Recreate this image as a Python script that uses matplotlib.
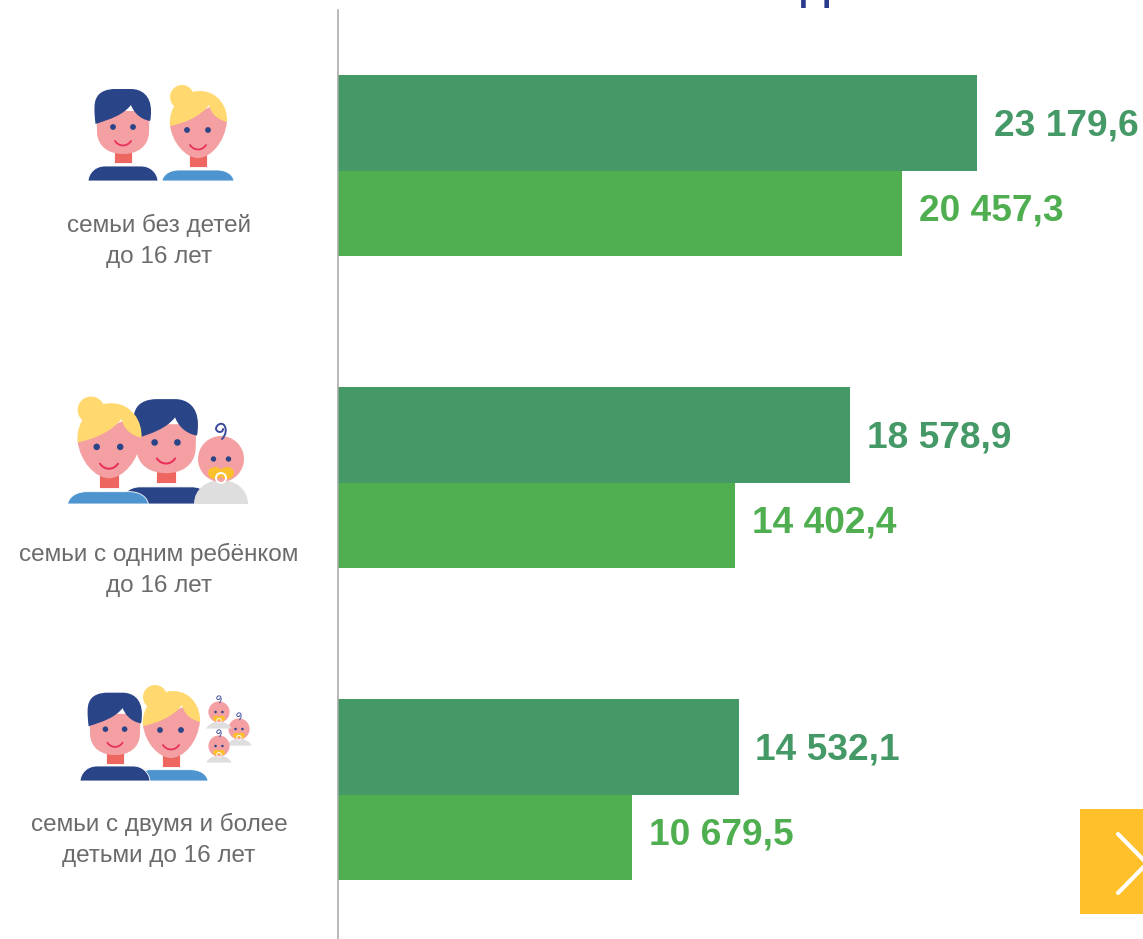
#!/usr/bin/env python3

import matplotlib
matplotlib.use("Agg")
import matplotlib.pyplot as plt
from matplotlib.patches import Circle, Ellipse, PathPatch, Rectangle
from matplotlib.path import Path

categories = ["семьи без детей\nдо 16 лет",
              "семьи с одним ребёнком\nдо 16 лет",
              "семьи с двумя и более\nдетьми до 16 лет"]
dark_values = [23179.6, 18578.9, 14532.1]
light_values = [20457.3, 14402.4, 10679.5]

DARK = "#459966"
LIGHT = "#4FAF50"
NAVY = "#2A4488"
FACE = "#F4A0A2"
NECK = "#EE6660"
BLOND = "#FFD970"
BLUE = "#4E95D0"
GREY = "#DEDEDE"
SMILE = "#E8305A"
W, H = 1143, 939

plt.rcParams["font.family"] = ["Liberation Sans", "DejaVu Sans"]


def fmt(v):
    return f"{v:,.1f}".replace(",", " ").replace(".", ",")


def shape(ax, ox, oy, s, d, color, z, ec="none"):
    # d is a list of (code, points) in icon coordinates
    verts, codes = [], []
    for code, pts in d:
        for x, y in pts:
            verts.append((ox + s * x, oy + s * y))
            codes.append(code)
    ax.add_patch(PathPatch(Path(verts, codes), facecolor=color, edgecolor=ec, lw=0.6, zorder=z))


def stroke(ax, ox, oy, s, pts, color, z, lw):
    verts = [(ox + s * x, oy + s * y) for x, y in pts]
    codes = [Path.MOVETO] + [Path.CURVE4] * (len(pts) - 1)
    ax.add_patch(PathPatch(Path(verts, codes), fill=False, edgecolor=color, lw=lw, capstyle="round", zorder=z))


M, L, C, Z = Path.MOVETO, Path.LINETO, Path.CURVE4, Path.CLOSEPOLY


def shoulders(ax, ox, oy, s, w, top, color, z):
    shape(ax, ox, oy, s, [(M, [(-w, 0)]),
                          (C, [(-w + 1, top * 0.6), (-w + 8, top), (-w + 17, top)]),
                          (L, [(w - 17, top)]),
                          (C, [(w - 8, top), (w - 1, top * 0.6), (w, 0)]),
                          (Z, [(-w, 0)])], color, z, ec="white")


def man_head(ax, ox, oy, s, z):
    ax.add_patch(Rectangle((ox - 9 * s, oy - 32 * s), 18 * s, 14 * s, fc=NECK, ec="white", lw=0.6, zorder=z))
    shape(ax, ox, oy, s, [(M, [(-26.5, -70)]), (L, [(-26, -48)]),
                          (C, [(-25, -34), (-14, -27), (0, -27)]),
                          (C, [(14, -27), (25, -34), (26, -48)]),
                          (L, [(26.5, -70)]), (Z, [(-26.5, -70)])], FACE, z + 0.1)
    shape(ax, ox, oy, s, [(M, [(-27.5, -57)]),
                          (C, [(-29, -70), (-29, -78), (-27, -82)]),
                          (C, [(-24, -90), (-15, -92), (-8, -92)]),
                          (L, [(8, -92)]),
                          (C, [(18, -92), (28, -86), (28, -70)]),
                          (C, [(28, -66), (28, -63), (27, -60)]),
                          (C, [(16, -62), (10, -70), (8, -76)]),
                          (C, [(0, -66), (-12, -62), (-27.5, -57)]),
                          (Z, [(-27.5, -57)])], NAVY, z + 0.2)
    for ex in (-10, 10):
        ax.add_patch(Circle((ox + ex * s, oy - 54 * s), 2.9 * s, fc=NAVY, ec="none", zorder=z + 0.3))
    stroke(ax, ox, oy, s, [(-8, -40), (-4, -34), (4, -34), (8, -40)], SMILE, z + 0.3, 1.3 * s)


def woman_head(ax, ox, oy, s, z):
    ax.add_patch(Rectangle((ox - 9 * s, oy - 28 * s), 18 * s, 14 * s, fc=NECK, ec="white", lw=0.6, zorder=z))
    shape(ax, ox, oy, s, [(M, [(-28, -56)]),
                          (C, [(-26, -38), (-12, -23), (0, -23)]),
                          (C, [(12, -23), (27, -38), (29, -60)]),
                          (L, [(12, -74)]), (Z, [(-28, -56)])], FACE, z + 0.1)
    ax.add_patch(Circle((ox - 16 * s, oy - 84 * s), 12 * s, fc=BLOND, ec="none", zorder=z + 0.2))
    shape(ax, ox, oy, s, [(M, [(-28, -55)]),
                          (C, [(-30, -74), (-16, -90), (2, -90)]),
                          (C, [(20, -90), (30, -74), (29, -59)]),
                          (C, [(18, -62), (13, -68), (11, -76)]),
                          (C, [(4, -66), (-12, -58), (-28, -55)]),
                          (Z, [(-28, -55)])], BLOND, z + 0.2)
    for ex in (-11, 10):
        ax.add_patch(Circle((ox + ex * s, oy - 51 * s), 2.9 * s, fc=NAVY, ec="none", zorder=z + 0.3))
    stroke(ax, ox, oy, s, [(-8, -36), (-4, -30), (4, -30), (8, -36)], SMILE, z + 0.3, 1.3 * s)


def baby(ax, ox, oy, s, z, bottom=45):
    shape(ax, ox, oy, s, [(M, [(-27, bottom)]),
                          (C, [(-27, 30), (-14, 21), (0, 21)]),
                          (C, [(14, 21), (27, 30), (27, bottom)]),
                          (Z, [(-27, bottom)])], GREY, z)
    ax.add_patch(Circle((ox, oy), 23 * s, fc=FACE, ec="none", zorder=z + 0.1))
    for ex in (-7.5, 7.5):
        ax.add_patch(Circle((ox + ex * s, oy), 2.7 * s, fc=NAVY, ec="none", zorder=z + 0.2))
    for ex in (-6, 6):
        ax.add_patch(Ellipse((ox + ex * s, oy + 14 * s), 14 * s, 12 * s, fc="#FBC02D", ec="none", zorder=z + 0.2))
    ax.add_patch(Circle((ox, oy + 19 * s), 5 * s, fill=False, ec="white", lw=1.4 * s, zorder=z + 0.3))
    stroke(ax, ox, oy, s, [(1, -20), (5, -24), (6, -30), (3, -34), (0, -37), (-5, -34), (-5, -30),
                           (-4, -26), (2, -26), (2, -30)], "#3B4A9A", z + 0.2, 1.4 * s)


fig = plt.figure(figsize=(W / 100, H / 100), dpi=100)

# bars: x is the value, y runs in picture pixels
ax = fig.add_axes([338 / W, 0, 1 - 338 / W, (H - 10) / H])
ax.set_xlim(0, 805 / 0.02757)
ax.set_ylim(H, 10)
for i in range(3):
    top = 75 + 312 * i
    ax.barh(top + 48, dark_values[i], height=96, color=DARK)
    ax.barh(top + 138.5, light_values[i], height=85, color=LIGHT)
    ax.annotate(fmt(dark_values[i]), (dark_values[i], top + 50), xytext=(12, -1), textcoords="offset points",
                color=DARK, fontsize=26.7, fontweight="bold", va="center")
    ax.annotate(fmt(light_values[i]), (light_values[i], top + 136), xytext=(12, 0), textcoords="offset points",
                color=LIGHT, fontsize=26.7, fontweight="bold", va="center")
for s in ("top", "right", "bottom"):
    ax.spines[s].set_visible(False)
ax.spines["left"].set_color("#a6a6a6")
ax.spines["left"].set_linewidth(1.1)
ax.set_xticks([])
ax.set_yticks([])
ax.patch.set_alpha(0)

# icons, labels and the leftovers of the slide, in pixels
ov = fig.add_axes([0, 0, 1, 1])
ov.set_xlim(0, W)
ov.set_ylim(H, 0)
ov.axis("off")
ov.patch.set_alpha(0)

shoulders(ov, 123, 181, 1, 35, -15, NAVY, 2)
man_head(ov, 123, 181, 1, 3)
shoulders(ov, 198, 181, 1, 36, -11, BLUE, 2)
woman_head(ov, 198, 181, 1, 3)

shoulders(ov, 166, 504, 1.14, 40, -15, NAVY, 2)
man_head(ov, 166, 504, 1.14, 3)
shoulders(ov, 108, 504, 1.12, 36, -11, BLUE, 4)
woman_head(ov, 109, 504, 1.12, 5)
baby(ov, 221, 459, 1, 6)

shoulders(ov, 171, 781, 1.03, 36, -11, BLUE, 2)
woman_head(ov, 171, 781, 1.0, 5)
shoulders(ov, 115, 781, 1, 35, -15, NAVY, 3)
man_head(ov, 115, 781, 0.96, 4)
baby(ov, 239, 729, 0.46, 6, bottom=36)
baby(ov, 219, 712, 0.46, 7, bottom=36)
baby(ov, 219, 746, 0.46, 8, bottom=36)

for i, label in enumerate(categories):
    yc = [240.5, 570, 840][i]
    for j, line in enumerate(label.split("\n")):
        ov.text(159, yc - 15.5 + 31.5 * j, line, ha="center", va="center", color="#6b6b6b", fontsize=17.5)

ov.add_patch(Rectangle((1080, 809), 80, 105, fc="#FFC02B", ec="none", zorder=2))
ov.plot([1118, 1147, 1118], [834, 863.5, 893], color="white", lw=3, solid_capstyle="round", zorder=3)

ov.text(797, 8, "Н", color="#2A3A8C", fontsize=36, va="baseline", ha="left")

fig.savefig("out.png", dpi=100)
plt.close(fig)
